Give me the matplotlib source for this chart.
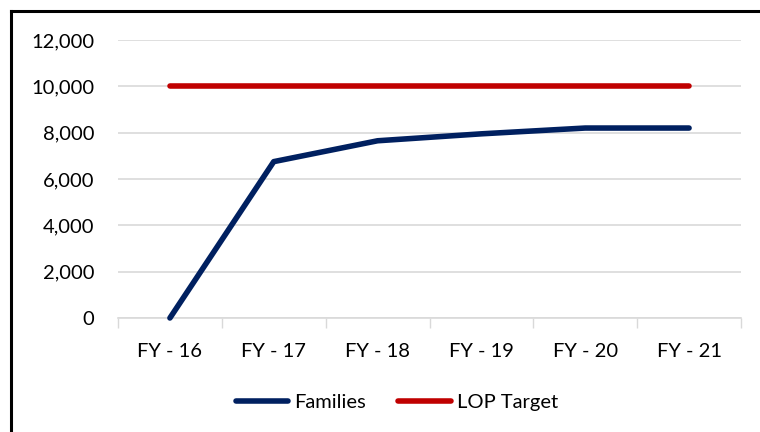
import matplotlib
matplotlib.use("Agg")
import matplotlib.pyplot as plt
from matplotlib.lines import Line2D

categories = ["FY - 16", "FY - 17", "FY - 18", "FY - 19", "FY - 20", "FY - 21"]
families = [0, 6750, 7650, 7950, 8200, 8200]
lop_target = [10000, 10000, 10000, 10000, 10000, 10000]
yticks = [0, 2000, 4000, 6000, 8000, 10000, 12000]

plt.rcParams['font.family'] = ['Lato', 'DejaVu Sans']

W, H = 760, 432
fig = plt.figure(figsize=(W / 100, H / 100), dpi=100)
ax = fig.add_axes([118 / W, 1 - 318 / H, (741 - 118) / W, (318 - 40) / H])

x = list(range(len(categories)))
ax.plot(x, families, color="#002060", lw=4.0, solid_capstyle="round", solid_joinstyle="round",
        zorder=3, clip_on=False)
ax.plot(x, lop_target, color="#C00000", lw=4.0, solid_capstyle="round", zorder=3, clip_on=False)

ax.set_xlim(-0.5, len(categories) - 0.5)
ax.set_ylim(0, 12000)
ax.set_yticks(yticks)
ax.set_yticklabels([f"{v:,}" for v in yticks])
ax.set_xticks([i - 0.5 for i in range(len(categories) + 1)], minor=False)
ax.set_xticklabels([])
ax.set_xticks(x, minor=True)
ax.set_xticklabels(categories, minor=True)
ax.tick_params(axis="x", which="major", length=7, color="#D9D9D9", width=1)
ax.tick_params(axis="x", which="minor", length=0, pad=18, labelsize=14.5)
ax.tick_params(axis="y", length=0, pad=17, labelsize=14.5)
ax.grid(axis="y", color="#D9D9D9", lw=1.2)
ax.set_axisbelow(True)
for s in ["top", "right", "left"]:
    ax.spines[s].set_visible(False)
ax.spines["bottom"].set_color("#D9D9D9")
ax.spines["bottom"].set_linewidth(1.2)

handles = [Line2D([], [], color="#002060", lw=4.0, solid_capstyle="round"),
           Line2D([], [], color="#C00000", lw=4.0, solid_capstyle="round")]
fig.legend(handles, ["Families", "LOP Target"], loc="center", bbox_to_anchor=(397 / W, 1 - 402 / H),
           ncol=2, frameon=False, fontsize=14.5, handlelength=2.6, handletextpad=0.3, columnspacing=1.6)

# chart border (left and top visible)
fig.add_artist(Line2D([11 / W, 11 / W], [0, 1 - 11 / H], color="black", lw=2.2, transform=fig.transFigure))
fig.add_artist(Line2D([11 / W, 1], [1 - 11 / H, 1 - 11 / H], color="black", lw=2.2, transform=fig.transFigure))

fig.savefig("out.png", dpi=100)
